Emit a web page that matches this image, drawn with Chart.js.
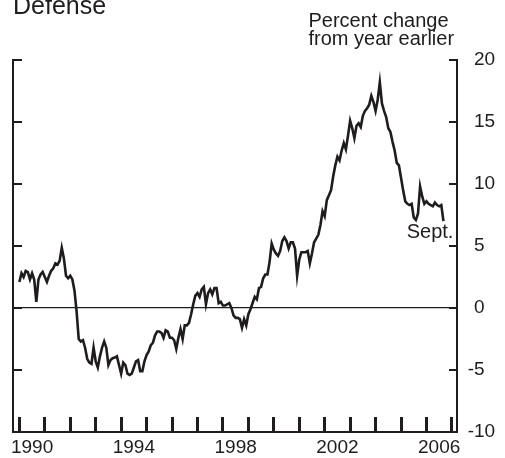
<!DOCTYPE html>
<html>
<head>
<meta charset="utf-8">
<script src="https://cdn.jsdelivr.net/npm/chart.js@4/dist/chart.umd.min.js"></script>
<style>
  html, body { margin: 0; padding: 0; background: #fff; }
  canvas { display: block; }
</style>
</head>
<body>
<canvas id="defenseChart" width="505" height="458"></canvas>
<script>
// monthly series, Jan 1990 .. Sept 2006, percent change from year earlier
const startYear = 1990;
const defense = [
  2.1, 2.8, 2.5, 3.0, 2.9, 2.3, 2.8, 2.3, 0.5, 2.3, 2.7, 2.9,
  2.5, 2.1, 2.6, 3.0, 3.2, 3.6, 3.5, 3.8, 4.85, 4.0, 2.6, 2.4,
  2.6, 2.3, 1.4, -0.3, -2.5, -2.7, -2.6, -3.2, -4.1, -4.4, -4.5, -3.2,
  -4.3, -4.8, -3.9, -3.2, -2.7, -3.2, -4.6, -4.2, -4.05, -4.0, -3.9, -4.6,
  -5.3, -4.4, -4.6, -5.3, -5.4, -5.3, -4.8, -4.3, -4.2, -5.1, -5.1, -4.3,
  -3.8, -3.5, -3.0, -2.8, -2.2, -1.9, -1.9, -2.0, -2.4, -1.8, -1.9, -2.4,
  -2.4, -2.6, -3.3, -2.4, -1.7, -2.5, -1.4, -1.4, -1.2, -0.5, 0.3, 1.0,
  1.2, 0.9, 1.5, 1.7, 0.3, 1.2, 1.5, 1.1, 1.6, 1.6, 0.4, 0.5,
  0.2, 0.2, 0.3, 0.4, 0.0, -0.6, -0.8, -0.8, -0.9, -1.6, -0.9, -1.4,
  -0.5, -0.1, 0.4, 0.9, 0.7, 1.6, 1.7, 2.4, 2.7, 2.7, 3.7, 5.2,
  4.7, 4.4, 4.2, 4.6, 5.4, 5.7, 5.4, 4.8, 5.3, 5.3, 4.8, 2.6,
  3.9, 4.5, 4.5, 4.5, 4.6, 3.6, 4.4, 5.3, 5.6, 5.9, 6.7, 7.8,
  7.4, 8.7, 9.1, 9.5, 10.6, 11.5, 12.2, 11.9, 12.7, 13.3, 12.8, 13.9,
  15.1, 14.5, 13.7, 14.7, 14.9, 14.6, 15.5, 15.9, 16.1, 16.4, 17.1, 16.6,
  15.9, 16.8, 18.2, 16.5, 15.9, 15.4, 14.5, 14.2, 13.4, 12.7, 11.7, 11.5,
  10.5, 9.5, 8.6, 8.4, 8.3, 8.4, 7.3, 7.1, 7.6, 9.8, 9.0, 8.4,
  8.6, 8.4, 8.3, 8.2, 8.5, 8.3, 8.2, 8.3, 7.0
];
const yearLabels = [1990, 1994, 1998, 2002, 2006];
const yearTicks = [1990, 1991, 1992, 1993, 1994, 1995, 1996, 1997, 1998, 1999, 2000, 2001, 2002, 2003, 2004, 2005, 2006, 2007];
const titleText = "Defense";
const unitsText = ["Percent change", "from year earlier"];
const endLabel = "Sept.";

const INK = "#1f1c1d";
const FAMILY = '"Liberation Sans", Arial, Helvetica, sans-serif';

const points = defense.map((v, i) => ({ x: startYear + i / 12, y: v }));

const decorations = {
  id: "decorations",
  afterDraw(chart) {
    const { ctx, chartArea: ca, scales: { x, y } } = chart;
    ctx.save();
    ctx.fillStyle = INK;
    ctx.strokeStyle = INK;

    // inward ticks on both vertical axes
    ctx.lineWidth = 2;
    y.ticks.forEach((t) => {
      const py = Math.round(y.getPixelForValue(t.value));
      ctx.beginPath();
      ctx.moveTo(ca.left, py); ctx.lineTo(ca.left + 9, py);
      ctx.moveTo(ca.right - 8, py); ctx.lineTo(ca.right, py);
      ctx.stroke();
    });
    // year ticks rising from the bottom axis
    yearTicks.forEach((yr) => {
      const px = x.getPixelForValue(yr);
      ctx.fillRect(Math.round(px - 1.5), ca.bottom - 15, 3, 15);
    });

    // right axis labels, minus sign hanging to the left
    ctx.font = `19px ${FAMILY}`;
    ctx.textAlign = "left";
    ctx.textBaseline = "middle";
    y.ticks.forEach((t) => {
      const py = y.getPixelForValue(t.value);
      const neg = t.value < 0;
      const lead = neg ? ctx.measureText("-").width : 0;
      ctx.fillText((neg ? "-" : "") + Math.abs(t.value), y.left + 17 - lead, py);
    });

    ctx.textBaseline = "alphabetic";
    ctx.font = `25px ${FAMILY}`;
    ctx.fillText(titleText, 13, 14);
    ctx.font = `20px ${FAMILY}`;
    ctx.fillText(unitsText[0], 308.5, 26.5);
    ctx.fillText(unitsText[1], 308.5, 44.5);

    const last = chart.getDatasetMeta(0).data[defense.length - 1];
    ctx.textAlign = "right";
    ctx.fillText(endLabel, last.x + 10, last.y + 17);
    ctx.restore();
  }
};

new Chart(document.getElementById("defenseChart"), {
  type: "line",
  data: {
    datasets: [{
      data: points,
      borderColor: INK,
      borderWidth: 2.6,
      pointRadius: 0,
      tension: 0,
      borderJoinStyle: "miter"
    }]
  },
  options: {
    responsive: false,
    animation: false,
    devicePixelRatio: 1,
    layout: { padding: { top: 60, left: 0, right: 0, bottom: 0 } },
    plugins: { legend: { display: false }, tooltip: { enabled: false } },
    scales: {
      x: {
        type: "linear",
        position: "bottom",
        min: 1989.75,
        max: 2007.2,
        afterBuildTicks: (s) => { s.ticks = yearLabels.map((yr) => ({ value: yr + 0.5 })); },
        afterFit: (s) => { s.height = 26; },
        ticks: {
          autoSkip: false,
          maxRotation: 0,
          padding: 4,
          color: INK,
          font: { family: FAMILY, size: 19 },
          callback: (v) => String(Math.floor(v))
        },
        grid: { display: false, drawTicks: false },
        border: { display: true, color: INK, width: 2 }
      },
      y: {
        type: "linear",
        position: "right",
        min: -10,
        max: 20,
        afterFit: (s) => { s.width = 48; },
        ticks: { stepSize: 5, display: false },
        grid: {
          drawTicks: false,
          color: (c) => (c.tick && c.tick.value === 0 ? INK : "rgba(0,0,0,0)"),
          lineWidth: 1.2
        },
        border: { display: true, color: INK, width: 2 }
      },
      yLeft: {
        type: "linear",
        position: "left",
        min: -10,
        max: 20,
        afterFit: (s) => { s.width = 13; },
        ticks: { display: false },
        grid: { display: false, drawTicks: false },
        border: { display: true, color: INK, width: 2 }
      }
    }
  },
  plugins: [decorations]
});
</script>
</body>
</html>
